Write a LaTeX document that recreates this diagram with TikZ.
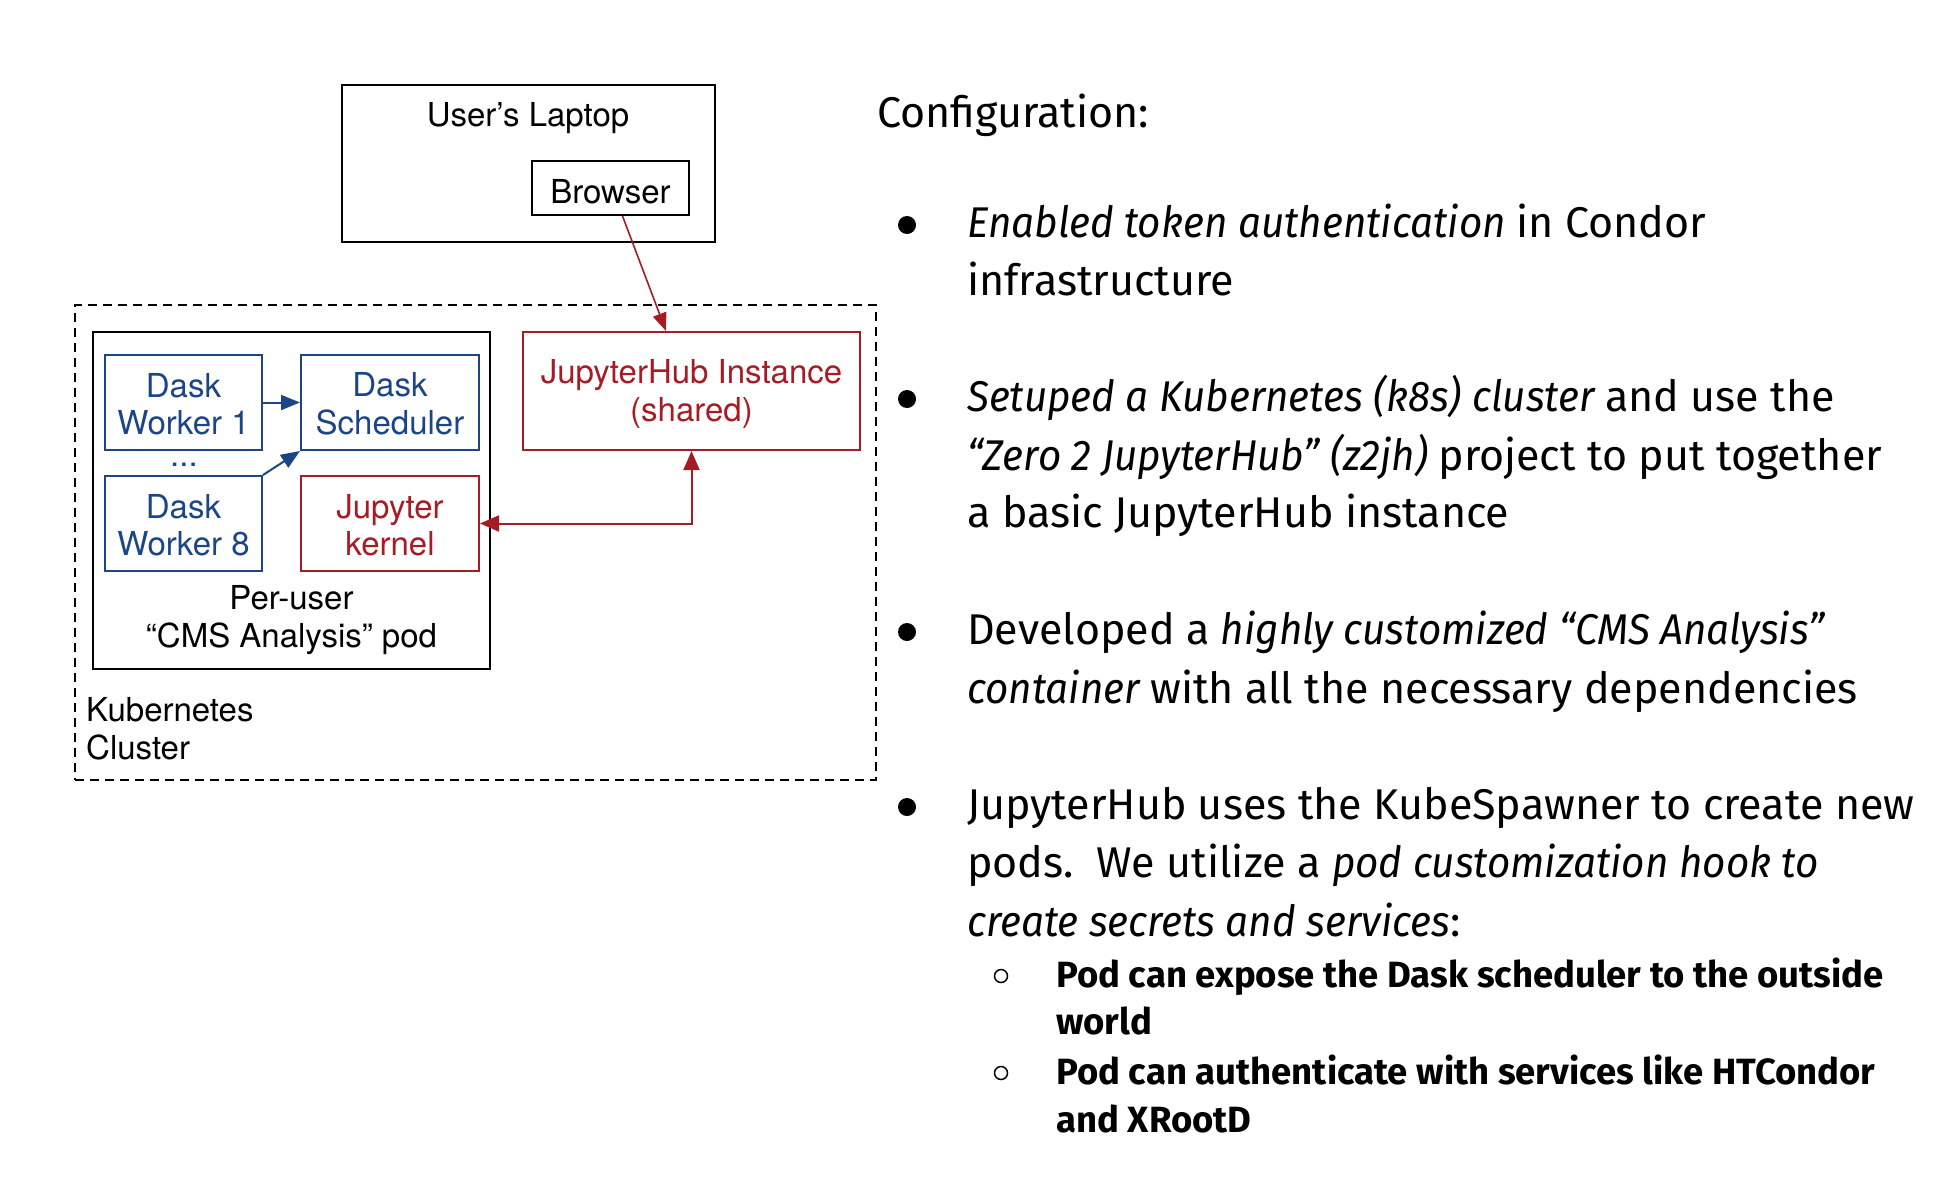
\documentclass[tikz,border=0pt]{standalone}
\usepackage{fontspec}
\setmainfont{Fira Sans}[ItalicFeatures={FakeStretch=0.94}]
\newfontfamily\diagfont{TeX Gyre Heros}
\usetikzlibrary{arrows.meta}
\definecolor{dblue}{RGB}{28,69,135}
\definecolor{dred}{RGB}{166,28,36}
\newcommand\mystrut{\rule{0pt}{27pt}}
\newcommand\mytallstrut{\rule{0pt}{30pt}}
\tikzset{
  dtext/.style={font=\diagfont\fontsize{33}{37.5}\selectfont, align=center, inner sep=0pt},
  plainbox/.style={draw=black, line width=2pt, inner sep=0pt},
  bluebox/.style={draw=dblue, text=dblue, line width=2pt, inner sep=0pt, dtext},
  redbox/.style={draw=dred, text=dred, line width=2pt, inner sep=0pt, dtext},
  blackbox/.style={draw=black, line width=2pt, inner sep=0pt, dtext},
  bluearrow/.style={draw=dblue, line width=2pt, -{Triangle[length=19pt,width=15pt]}},
  redarrow/.style={draw=dred, line width=2pt},
  rtext/.style={anchor=base west, inner sep=0pt, font=\fontsize{43}{58.5}\selectfont},
  stext/.style={anchor=base west, inner sep=0pt, font=\bfseries\fontsize{36.5}{47}\selectfont},
}
\begin{document}
\begin{tikzpicture}[x=1pt, y=-1pt]
\useasboundingbox (0,0) rectangle (1942,1191);
% laptop
\node[plainbox, minimum width=373pt, minimum height=157pt] (laptop) at (528.5,163.5) {};
\node[dtext] (laptoplabel) at (528,118) {User’s Laptop};
\node[blackbox, minimum width=157pt, minimum height=54pt, text depth=0pt, text height=31pt] (browser) at (610.5,188) {Browser};
% cluster
\node[draw=black, line width=1.8pt, dash pattern=on 9pt off 6pt, minimum width=801pt, minimum height=475pt, inner sep=0pt] (k8s) at (475.5,542.5) {};
\node[dtext, align=left, anchor=west] (k8slabel) at (86,729) {Kubernetes\\Cluster};
% pod
\node[plainbox, minimum width=397pt, minimum height=337pt] (pod) at (291.5,500.5) {};
\node[dtext] (podlabel) at (291.5,620) {Per-user\\“CMS Analysis” pod};
\node[bluebox, minimum width=157pt, minimum height=95pt] (w1) at (183.5,402.5) {\mystrut Dask\\Worker 1};
\node[bluebox, minimum width=178pt, minimum height=95pt] (sched) at (390,402.5) {\mystrut Dask\\Scheduler};
\node[bluebox, minimum width=157pt, minimum height=95pt] (w8) at (183.5,523.5) {\mystrut Dask\\Worker 8};
\node[redbox, minimum width=178pt, minimum height=95pt] (kernel) at (390,523.5) {\mystrut Jupyter\\kernel};
\node[inner sep=0pt, font=\diagfont\fontsize{33}{37.5}\selectfont, text=dblue, text height=4pt, text depth=0pt] (dots) at (184,464) {...};
\node[redbox, minimum width=337pt, minimum height=118pt] (jh) at (691.5,391) {\mytallstrut JupyterHub Instance\\(shared)};
% arrows
\draw[bluearrow] (w1.east) -- (sched.west);
\draw[bluearrow] (w8.north east) -- (sched.south west);
\draw[draw=dred, line width=1.6pt, -{Triangle[length=18pt,width=14pt]}] (browser.south) ++(12pt,0) coordinate (bs) (bs) -- (jh.north -| 666,0);
\draw[redarrow, {Triangle[length=19pt,width=16pt]}-{Triangle[length=19pt,width=16pt]}] (jh.south) |- (kernel.east);
% right text
\node[rtext] (conf) at (877,127) {Configuration:};
\fill (907,225) circle (9pt);
\node[rtext] (b1a) at (967,237) {\itshape Enabled token authentication \upshape in Condor};
\node[rtext] (b1b) at (967,295) {infrastructure};
\fill (907,399) circle (9pt);
\node[rtext] (b2a) at (967,411) {\itshape Setuped a Kubernetes (k8s) cluster \upshape and use the};
\node[rtext] (b2b) at (967,470) {\itshape “Zero 2 JupyterHub” (z2jh) \upshape project to put together};
\node[rtext] (b2c) at (967,527) {a basic JupyterHub instance};
\fill (907,632) circle (9pt);
\node[rtext] (b3a) at (967,644) {Developed a \itshape highly customized “CMS Analysis”};
\node[rtext] (b3b) at (967,703) {\itshape container \upshape with all the necessary dependencies};
\fill (907,807) circle (9pt);
\node[rtext] (b4a) at (967,819) {JupyterHub uses the KubeSpawner to create new};
\node[rtext] (b4b) at (967,877) {pods.\ \ We utilize a \itshape pod customization hook to};
\node[rtext] (b4c) at (967,936) {\itshape create secrets and services\upshape:};
\draw[line width=1.5pt] (1001,976) circle (6.5pt);
\node[stext] (s1a) at (1056,987) {Pod can expose the Dask scheduler to the outside};
\node[stext] (s1b) at (1056,1034) {world};
\draw[line width=1.5pt] (1001,1073) circle (6.5pt);
\node[stext] (s2a) at (1056,1084) {Pod can authenticate with services like HTCondor};
\node[stext] (s2b) at (1056,1132) {and XRootD};
\end{tikzpicture}
\end{document}
